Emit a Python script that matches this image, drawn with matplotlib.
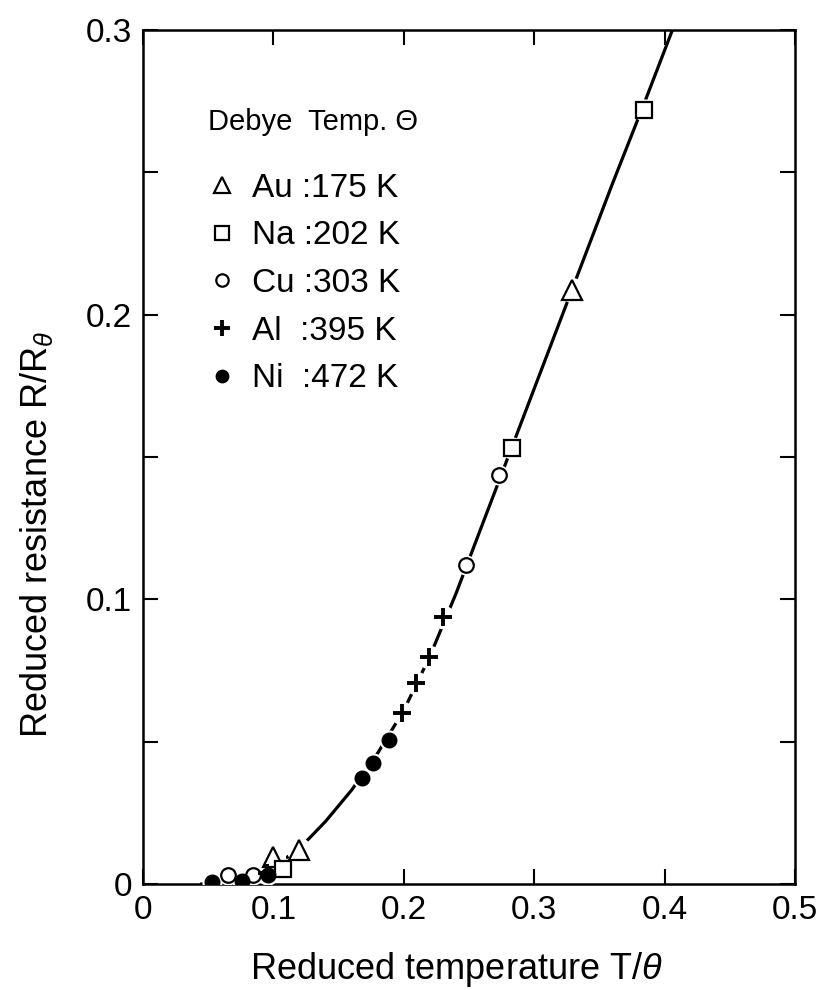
import matplotlib
matplotlib.use('Agg')
import matplotlib.pyplot as plt
from matplotlib.ticker import MultipleLocator

plt.rcParams['font.family'] = ['Liberation Sans', 'DejaVu Sans']
plt.rcParams['mathtext.fontset'] = 'custom'
plt.rcParams['mathtext.rm'] = 'Liberation Sans'
plt.rcParams['mathtext.it'] = 'Liberation Sans:italic'

# universal curve
curve_t = [0.045, 0.06, 0.08, 0.10, 0.12, 0.14, 0.16, 0.18, 0.20, 0.22, 0.24,
           0.26, 0.28, 0.30, 0.33, 0.36, 0.385, 0.406]
curve_r = [0.0, 0.0005, 0.002, 0.006, 0.0125, 0.022, 0.033, 0.046, 0.061, 0.080,
           0.102, 0.126, 0.150, 0.174, 0.210, 0.246, 0.275, 0.300]

# measured points per metal
au_t = [0.100, 0.120, 0.329]
au_r = [0.0095, 0.012, 0.2086]
na_t = [0.107, 0.283, 0.384]
na_r = [0.0053, 0.153, 0.272]
cu_t = [0.065, 0.084, 0.248, 0.273]
cu_r = [0.003, 0.003, 0.112, 0.1437]
al_t = [0.095, 0.199, 0.209, 0.219, 0.230]
al_r = [0.004, 0.060, 0.0706, 0.0797, 0.0938]
ni_t = [0.053, 0.076, 0.096, 0.168, 0.176, 0.189]
ni_r = [0.0008, 0.001, 0.003, 0.0372, 0.0425, 0.0506]

metals = ['Au', 'Na', 'Cu', 'Al', 'Ni']
debye_K = [175, 202, 303, 395, 472]

xticks = [0, 0.1, 0.2, 0.3, 0.4, 0.5]
xticklabels = ['0', '0.1', '0.2', '0.3', '0.4', '0.5']
yticks = [0, 0.1, 0.2, 0.3]
yticklabels = ['0', '0.1', '0.2', '0.3']

fig = plt.figure(figsize=(8.25, 9.9), dpi=100)
ax = fig.add_axes([143 / 825, 106 / 990, 652 / 825, 854 / 990])

ax.plot(curve_t, curve_r, color='black', lw=2.3, zorder=2)

series = [
    (au_t, au_r, '^', 14, 'white', 1.6),
    (na_t, na_r, 's', 12, 'white', 1.6),
    (cu_t, cu_r, 'o', 10.5, 'white', 1.6),
    (al_t, al_r, '+', 13, 'black', 2.8),
    (ni_t, ni_r, 'o', 10.5, 'black', 1.0),
]
handles = []
for (t, r, m, ms, fc, mew) in series:
    # white halo to break the line around each marker
    ax.plot(t, r, ls='none', marker='o', ms=ms + 4, mfc='white', mec='white',
            mew=0, zorder=3)
    h, = ax.plot(t, r, ls='none', marker=m, ms=ms, mfc=fc, mec='black',
                 mew=mew, zorder=4)
    handles.append(h)

labels = []
for name, th in zip(metals, debye_K):
    pad = '  ' if name in ('Al', 'Ni') else ' '
    labels.append(f'{name}{pad}:{th} K')

ax.text(0.1, 0.892, 'Debye  Temp. Θ', transform=ax.transAxes, fontsize=21,
        ha='left', va='center')
leg = ax.legend(handles, labels, loc='upper left', bbox_to_anchor=(0.095, 0.833),
                frameon=False, fontsize=24, handlelength=1.0,
                handletextpad=0.4, labelspacing=0.5, borderpad=0,
                borderaxespad=0, markerscale=0.85, numpoints=1)

ax.set_xlim(0, 0.5)
ax.set_ylim(0, 0.3)
ax.set_xticks(xticks)
ax.set_xticklabels(xticklabels)
ax.set_yticks(yticks)
ax.set_yticklabels(yticklabels)
ax.yaxis.set_minor_locator(MultipleLocator(0.05))
ax.tick_params(which='both', direction='in', length=11, width=1.5,
               top=True, right=True, labelsize=24, pad=8)

for s in ax.spines.values():
    s.set_linewidth(1.8)

ax.set_xlabel('Reduced temperature T/$\\theta$', fontsize=26)
ax.xaxis.set_label_coords(0.48, -0.077)
ax.set_ylabel('Reduced resistance R/R$_{\\theta}$', fontsize=26)
ax.yaxis.set_label_coords(-0.135, 0.41)

fig.savefig('out.png', dpi=100)
